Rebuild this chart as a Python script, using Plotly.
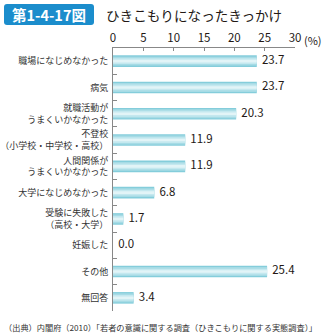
import plotly.graph_objects as go

# Data
categories = [
    "職場になじめなかった",
    "病気",
    "就職活動が<br>うまくいかなかった",
    "不登校<br>（小学校・中学校・高校）",
    "人間関係が<br>うまくいかなかった",
    "大学になじめなかった",
    "受験に失敗した<br>（高校・大学）",
    "妊娠した",
    "その他",
    "無回答",
]
values = [23.7, 23.7, 20.3, 11.9, 11.9, 6.8, 1.7, 0.0, 25.4, 3.4]
x_ticks = [0, 5, 10, 15, 20, 25, 30]

W, H = 326, 336
L, R, T, B = 113, 31, 48, 25
PW, PH = W - L - R, H - T - B

def px_x(px):
    return (px - L) / PW

def px_y(py):
    return 1 - (py - T) / PH

FONT = "Noto Sans CJK JP"
TXT = "#231815"

fig = go.Figure()

# Bars drawn as stacked layers of decreasing thickness to give a soft cylindrical shading
layers = [(0.44, "#84cddb"), (0.34, "#a6dbe5"), (0.22, "#c4e8ef"), (0.10, "#e2f4f7")]
for i, (w, c) in enumerate(layers):
    fig.add_trace(go.Bar(
        x=values, y=categories, orientation="h", width=w,
        marker=dict(color=c, line=dict(width=0)),
        hoverinfo="skip", showlegend=False,
    ))

# Value labels
fig.add_trace(go.Scatter(
    x=values, y=categories, mode="text",
    text=[f"  {v:.1f}" for v in values], textposition="middle right",
    textfont=dict(family=FONT, size=11.5, color=TXT),
    hoverinfo="skip", showlegend=False, cliponaxis=False,
))

fig.update_layout(
    width=W, height=H,
    margin=dict(l=L, r=R, t=T, b=B),
    paper_bgcolor="white", plot_bgcolor="white",
    barmode="overlay",
    font=dict(family=FONT, color=TXT),
    xaxis=dict(
        side="top", range=[0, 30], tickvals=x_ticks, automargin=False,
        showline=True, linecolor="#888888", linewidth=1,
        ticks="inside", ticklen=3, tickcolor="#888888",
        showgrid=False, zeroline=False, fixedrange=True,
        tickfont=dict(family=FONT, size=11.5, color=TXT),
    ),
    yaxis=dict(
        categoryorder="array", categoryarray=categories, autorange="reversed",
        automargin=False,
        showline=True, linecolor="#888888", linewidth=1,
        ticks="inside", ticklen=4, tickcolor="#888888", tickson="boundaries",
        showgrid=False, zeroline=False, fixedrange=True,
        tickfont=dict(family=FONT, size=9, color="#333333"),
        ticklabelstandoff=2,
    ),
)

# Figure number badge with rounded corners
x0, x1, y0, y1, r = 4, 94, 4, 25, 3
path = (f"M {px_x(x0 + r)} {px_y(y0)} L {px_x(x1 - r)} {px_y(y0)} "
        f"Q {px_x(x1)} {px_y(y0)} {px_x(x1)} {px_y(y0 + r)} "
        f"L {px_x(x1)} {px_y(y1 - r)} Q {px_x(x1)} {px_y(y1)} {px_x(x1 - r)} {px_y(y1)} "
        f"L {px_x(x0 + r)} {px_y(y1)} Q {px_x(x0)} {px_y(y1)} {px_x(x0)} {px_y(y1 - r)} "
        f"L {px_x(x0)} {px_y(y0 + r)} Q {px_x(x0)} {px_y(y0)} {px_x(x0 + r)} {px_y(y0)} Z")
fig.add_shape(type="path", path=path, xref="paper", yref="paper",
              fillcolor="#1b8dcc", line=dict(width=0), layer="above")

fig.add_annotation(text="<b>第1-4-17図</b>", x=px_x(49), y=px_y(14.5),
                   xref="paper", yref="paper", xanchor="center", yanchor="middle",
                   showarrow=False, font=dict(family=FONT, size=14.5, color="white"))
fig.add_annotation(text="ひきこもりになったきっかけ", x=px_x(104), y=px_y(14.5),
                   xref="paper", yref="paper", xanchor="left", yanchor="middle",
                   showarrow=False, font=dict(family=FONT, size=13.6, color=TXT))
fig.add_annotation(text="(%)", x=px_x(302), y=px_y(40),
                   xref="paper", yref="paper", xanchor="left", yanchor="middle",
                   showarrow=False, font=dict(family=FONT, size=11, color=TXT))
fig.add_annotation(text="（出典）内閣府（2010）「若者の意識に関する調査（ひきこもりに関する実態調査）」",
                   x=px_x(2), y=px_y(327), xref="paper", yref="paper",
                   xanchor="left", yanchor="middle", showarrow=False,
                   font=dict(family=FONT, size=8.2, color="#333333"))

fig.write_html("out.html")
